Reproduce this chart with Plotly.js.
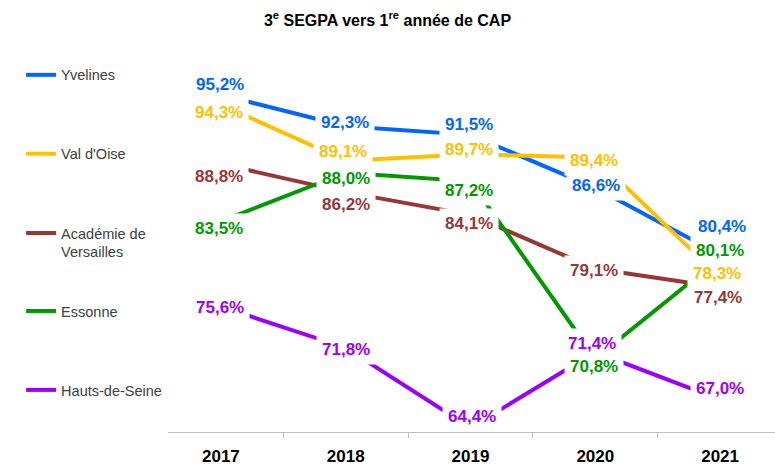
<!DOCTYPE html>
<html>
<head>
<meta charset="utf-8">
<script src="https://cdn.plot.ly/plotly-3.0.1.min.js"></script>
<style>html,body{margin:0;padding:0;background:#fff;}#chart{width:775px;height:466px;}</style>
</head>
<body>
<div id="chart"></div>
<script>
// ---- Data ----
const years = ['2017', '2018', '2019', '2020', '2021'];
const yvelines = [95.2, 92.3, 91.5, 86.6, 80.4];
const valDOise = [94.3, 89.1, 89.7, 89.4, 78.3];
const academie = [88.8, 86.2, 84.1, 79.1, 77.4];
const essonne = [83.5, 88.0, 87.2, 70.8, 80.1];
const hautsDeSeine = [75.6, 71.8, 64.4, 71.4, 67.0];
const seriesNames = ['Yvelines', "Val d'Oise", 'Académie de<br>Versailles', 'Essonne', 'Hauts-de-Seine'];
const chartTitle = '3<sup>e</sup> SEGPA vers 1<sup>re</sup> année de CAP';

// ---- Styles ----
const colors = ['#0066FF', '#FFC000', '#993735', '#009900', '#9900FF'];
const FONT = '"Liberation Sans", Arial, sans-serif';
// label offsets in px (style only)
const labelDx = [
  [-1, -1, -2, 1, 2],
  [-2, -3, -2, -1, -3],
  [-2, 0, -2, -1, -2],
  [-2, 0, -2, -1, 0],
  [-1, 0, 1, -3, 0]
];
const labelDy = [
  [10, 4, 10, 2, 28],
  [-8, 9, 5, -2.5, 4],
  [-12, -12, -8.5, -2, -10],
  [-7, -5.6, -8.7, -7.5, 7.3],
  [-1.3, -1.3, 10.7, 9, 10.6]
];
const legendY = [0.918, 0.715, 0.487, 0.311, 0.108];

const allSeries = [yvelines, valDOise, academie, essonne, hautsDeSeine];

const traces = allSeries.map((vals, i) => ({
  type: 'scatter',
  mode: 'lines',
  x: years,
  y: vals,
  name: seriesNames[i],
  line: {color: colors[i], width: 4},
  legend: i === 0 ? 'legend' : 'legend' + (i + 1),
  hoverinfo: 'skip'
}));

const annotations = [];
allSeries.forEach((vals, i) => {
  vals.forEach((v, j) => {
    annotations.push({
      x: j, y: v, xref: 'x', yref: 'y',
      text: '<b>' + v.toFixed(1).replace('.', ',') + '%</b>',
      showarrow: false,
      xshift: labelDx[i][j], yshift: labelDy[i][j],
      bgcolor: '#ffffff', borderpad: 5,
      font: {family: FONT, size: 17, color: colors[i]}
    });
  });
});

const layout = {
  width: 775, height: 466,
  margin: {l: 168, r: 0, t: 43, b: 34},
  paper_bgcolor: '#ffffff', plot_bgcolor: '#ffffff',
  title: {
    text: chartTitle,
    font: {family: FONT, size: 16, weight: 'bold', color: '#000000'},
    xref: 'container', x: 0.5, xanchor: 'center',
    yref: 'container', y: 0.957, yanchor: 'middle'
  },
  xaxis: {
    type: 'category',
    range: [-0.424, 4.44],
    showline: true, linecolor: '#bfbfbf', linewidth: 1,
    ticks: 'outside', tickson: 'boundaries', ticklen: 5, tickcolor: '#bfbfbf',
    showgrid: false, zeroline: false,
    ticklabelstandoff: 9,
    tickfont: {family: FONT, size: 17, weight: 'bold', color: '#000000'},
    fixedrange: true
  },
  yaxis: {
    range: [64, 100], visible: false, showgrid: false, zeroline: false, fixedrange: true
  },
  annotations: annotations,
  showlegend: true
};

const legendBase = {
  x: -0.242, xanchor: 'left', yanchor: 'middle',
  bgcolor: 'rgba(0,0,0,0)', valign: 'top',
  font: {family: FONT, size: 14.5, color: '#404040'}
};
legendY.forEach((y, i) => {
  const key = i === 0 ? 'legend' : 'legend' + (i + 1);
  layout[key] = Object.assign({}, legendBase, {y: y});
});

Plotly.newPlot('chart', traces, layout, {displayModeBar: false});
</script>
</body>
</html>
